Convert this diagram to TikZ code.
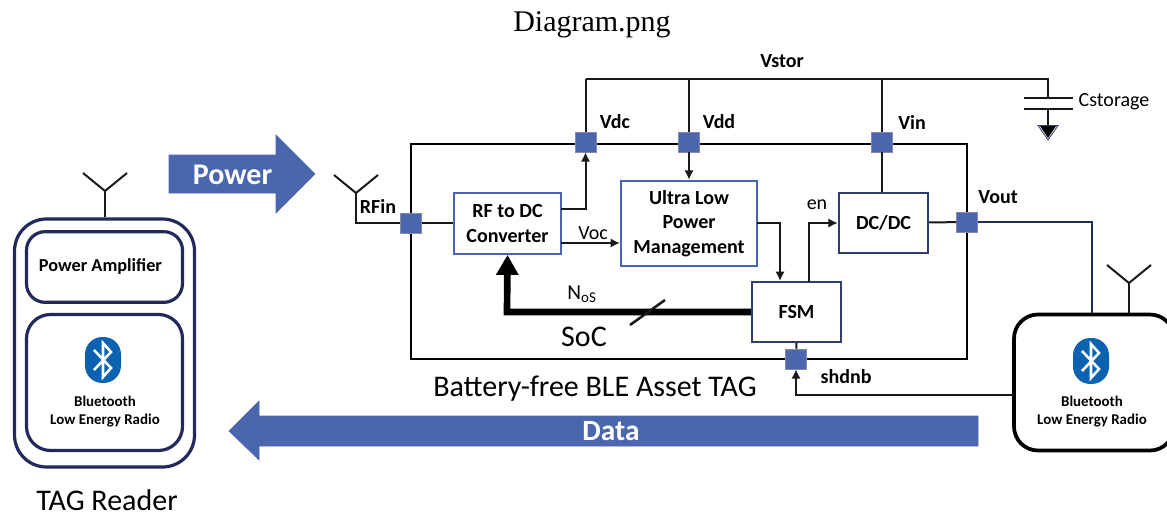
\documentclass[tikz,border=0pt]{standalone}
\usepackage{fontspec}
\setmainfont{Carlito}
\newfontfamily\titlefont{Liberation Serif}
\usetikzlibrary{arrows.meta}
\definecolor{padblue}{HTML}{4A66AC}
\definecolor{darkblue}{HTML}{2E3C6E}
\definecolor{navyline}{HTML}{222A5C}
\definecolor{btblue}{HTML}{0A62B0}
\def\bfsize{\fontsize{15}{18.3}\selectfont\bfseries}
\def\smallbf{\fontsize{11.2}{13.5}\selectfont\bfseries}
\def\plainsize{\fontsize{15}{17}\selectfont}
\def\bigtext{\fontsize{22.5}{26}\selectfont}
\tikzset{
	wire/.style={line width=1.5pt,black!90},
	arrowwire/.style={wire,-{Latex[length=7pt,width=7pt]}},
	blockbox/.style={draw=padblue,line width=1.6pt,fill=white,inner sep=0pt,align=center,font=\bfsize},
	pad/.style={draw=darkblue!60,fill=padblue,line width=.4pt,minimum width=15.5pt,minimum height=15pt,inner sep=0pt},
	roundbox/.style={draw=navyline,line width=2.4pt,rounded corners=14pt,inner sep=0pt,align=center},
	bigarrow/.style={fill=padblue,draw=padblue,line width=.4pt},
	antenna/.pic={\draw[wire] (-22,-18) -- (0,0) -- (22,-18);},
	btlogo/.pic={
		\fill[btblue,rounded corners=13pt] (-18,-23) rectangle (18,23);
		\draw[white,line width=1.9pt,line join=miter] (-9,-10) -- (8,8) -- (0,17) -- (0,-17) -- (8,-8) -- (-9,10);
	}
}

\begin{document}
\begin{tikzpicture}[x=.75pt,y=-.75pt]
	\useasboundingbox (0,0) rectangle (1167,514);
	\node[font=\titlefont\fontsize{22.5}{26}\selectfont] (title) at (592,25) {Diagram.png};

	%tag reader on the left
	\node[roundbox,minimum width=135pt,minimum height=186pt,rounded corners=24pt] (reader) at (104.5,343) {};
	\node[roundbox,minimum width=117pt,minimum height=53pt] (amp) at (104.5,267) {};
	\node[font=\fontsize{13.7}{16}\selectfont\bfseries] (amplabel) at (100.5,267) {Power Amplifier};
	\node[roundbox,minimum width=117pt,minimum height=102pt,rounded corners=18pt] (radioa) at (104.5,382.5) {};
	\pic at (103,360) {btlogo};
	\node[font=\smallbf,align=center] (radioalabel) at (105,412) {Bluetooth\\Low Energy Radio};
	\node[font=\bigtext,inner sep=0pt] (readerlabel) at (107,500) {TAG Reader};
	\coordinate (readerant) at (105,191);
	\pic at (readerant) {antenna};
	\draw[wire] (readerant) -- (reader.north -| readerant);

	%the two big arrows
	\draw[bigarrow] (169,155) -- (276,155) -- (276,135) -- (315,174) -- (276,213) -- (276,193) -- (169,193) -- cycle;
	\node[font=\fontsize{22.5}{26}\selectfont\bfseries,text=white] (powerlabel) at (232.5,175) {Power};
	\draw[bigarrow] (978,416) -- (259,416) -- (259,401) -- (229,431) -- (259,460) -- (259,446) -- (978,446) -- cycle;
	\node[font=\fontsize{22}{25}\selectfont\bfseries,text=white] (datalabel) at (611,431) {Data};

	%soc frame
	\node[draw,line width=1.5pt,minimum width=417pt,minimum height=161pt,inner sep=0pt] (soc) at (689,251.5) {};
	\node[blockbox,minimum width=80pt,minimum height=45.5pt] (rfdc) at (507.5,223.5) {RF to DC\\Converter};
	\node[blockbox,minimum width=102pt,minimum height=64pt] (ulp) at (689,223.5) {Ultra Low\\Power\\Management};
	\node[blockbox,draw=darkblue,minimum width=67pt,minimum height=45pt] (fsm) at (796.5,312) {FSM};
	\node[blockbox,draw=darkblue,minimum width=67pt,minimum height=45pt] (dcdc) at (883.5,223) {DC/DC};
	\node[roundbox,draw=black,line width=2.8pt,minimum width=120pt,minimum height=102pt,rounded corners=18pt] (radiob) at (1094,382.5) {};
	\pic at (1091,361) {btlogo};
	\node[font=\smallbf,align=center] (radioblabel) at (1092,412) {Bluetooth\\Low Energy Radio};

	%supply rail
	\coordinate (railleft) at (585.5,79);
	\coordinate (railcap) at (1048,79);
	\coordinate (capplus) at (1048,98);
	\coordinate (capminus) at (1048,109);
	\coordinate (capgnd) at (1048,126);
	\coordinate (capleft) at (1024,0);
	\coordinate (capright) at (1073,0);
	\draw[wire] (railleft) -- (railcap) -- (capplus);
	\draw[wire] (capplus -| capleft) -- (capplus -| capright);
	\draw[wire] (capminus -| capleft) -- (capminus -| capright);
	\draw[wire] (capminus) -- (capgnd);
	\fill[black] (1040,126) -- (1056,126) -- (1048,138) -- cycle;
	\draw[darkblue,line width=.6pt] (1038,125.5) -- (1058,125.5) -- (1048,140) -- cycle;

	%pads on the frame
	\node[pad] (padrf) at (411,223) {};
	\node[pad] (padvdc) at (585.5,142) {};
	\node[pad] (padvdd) at (689,142) {};
	\node[pad] (padvin) at (882,142) {};
	\node[pad] (padvout) at (967,222) {};
	\node[pad] (padshdn) at (796,359) {};
	\draw[wire] (railleft) -- (padvdc);
	\draw[wire] (padvdd |- railleft) -- (padvdd);
	\draw[wire] (padvin |- railleft) -- (padvin);

	%rf antenna
	\coordinate (rfant) at (356,193);
	\pic at (rfant) {antenna};
	\draw[wire] (rfant) |- (padrf);
	\draw[wire] (padrf) -- (rfdc.west |- padrf);

	%connections between blocks
	\coordinate (rfout) at (561,209);
	\coordinate (vocout) at (561,243);
	\coordinate (ulpout) at (757,223);
	\coordinate (fsmen) at (809,282);
	\coordinate (fsmin) at (780,281);
	\coordinate (thick) at (507,312);
	\coordinate (slasha) at (630,325);
	\coordinate (slashb) at (665,300);
	\coordinate (shdnout) at (1014,395);
	\coordinate (radiotap) at (1092,313);
	\draw[arrowwire] (rfout) -| (padvdc.south);
	\draw[arrowwire] (vocout) -- (ulp.west |- vocout);
	\draw[arrowwire] (padvdd) -- (ulp.north);
	\draw[arrowwire] (ulpout) -| (fsmin);
	\draw[arrowwire] (fsmen) |- (dcdc.west);
	\draw[wire] (padvin) -- (dcdc.north -| padvin);
	\draw[wire] (dcdc) -- (padvout);
	\draw[wire,draw=navyline] (padvout) -| (radiotap);
	\draw[wire] (fsm.south) -- (padshdn);
	\draw[arrowwire] (shdnout) -| (padshdn.south);
	\draw[line width=5pt,-{Triangle[length=15pt,width=16pt]}] (fsm.west |- thick) -- (thick) -- (rfdc.south);
	\draw[wire,line width=1.9pt] (slasha) -- (slashb);

	%antenna of the radio
	\coordinate (tagant) at (1129,283);
	\pic at (tagant) {antenna};
	\draw[wire] (tagant) -- (radiob.north -| tagant);

	%labels
	\node[font=\bfsize] (vstor) at (782,61) {Vstor};
	\node[font=\bfsize] (vdc) at (615,122) {Vdc};
	\node[font=\bfsize] (vdd) at (719,122) {Vdd};
	\node[font=\bfsize] (vin) at (912,122) {Vin};
	\node[font=\bfsize] (vout) at (998,197) {Vout};
	\node[font=\bfsize] (rfin) at (378,206) {RFin};
	\node[font=\bfsize] (shdnb) at (846,377) {shdnb};
	\node[font=\plainsize] (cstorage) at (1114,102) {Cstorage};
	\node[font=\plainsize] (voc) at (593,233) {Voc};
	\node[font=\plainsize] (en) at (817,205) {en};
	\node[font=\fontsize{16}{18}\selectfont] (nos) at (582,294) {N\textsubscript{oS}};
	\node[font=\bigtext] (soclabel) at (584,337) {SoC};
	\node[font=\bigtext] (taglabel) at (595,389) {Battery-free BLE Asset TAG};
\end{tikzpicture}
\end{document}
